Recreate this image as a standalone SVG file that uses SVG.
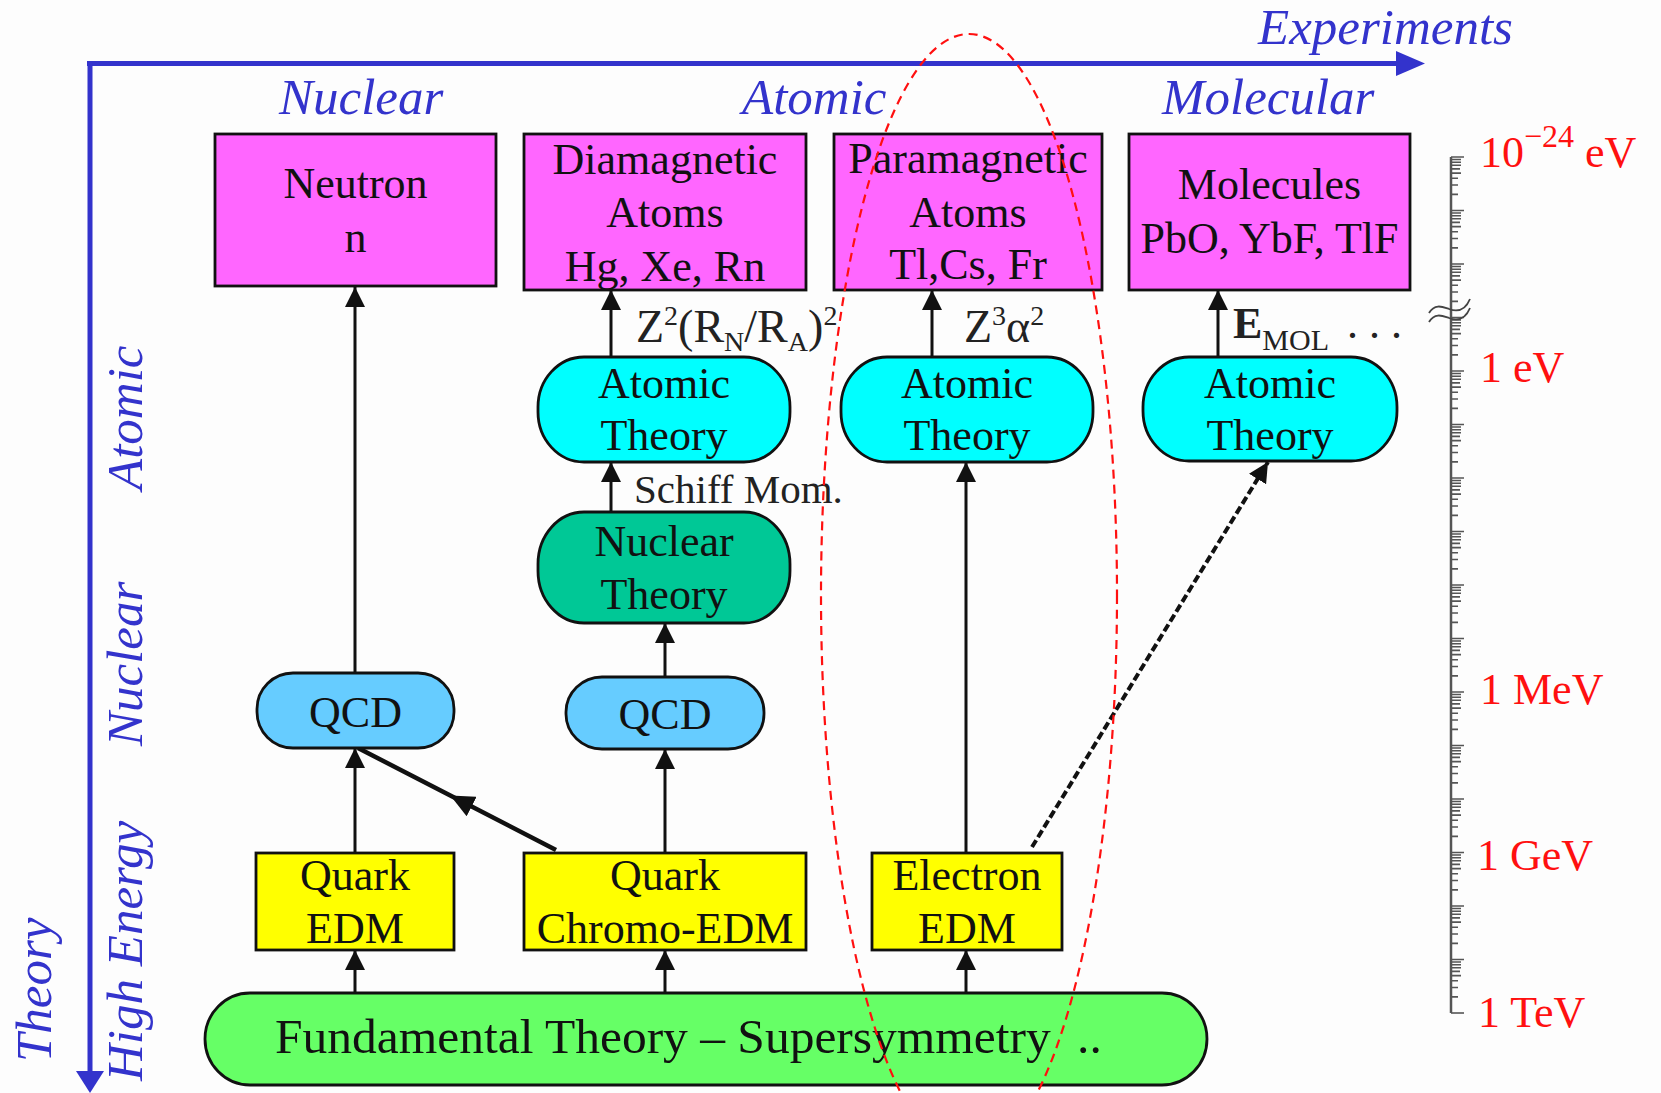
<svg xmlns="http://www.w3.org/2000/svg" width="1661" height="1093" viewBox="0 0 1661 1093">
<style>
.bg{fill:#fdfdfd}
.ax{fill:#3333cc;font-family:"Liberation Serif",serif;font-style:italic;font-size:51px}
.axl{stroke:#3333cc;stroke-width:5;fill:none}
.nt{font-family:"Liberation Serif",serif;font-size:44px;fill:#111;text-anchor:middle}
.lbl{font-family:"Liberation Serif",serif;font-size:46px;fill:#222}
.sch{font-family:"Liberation Serif",serif;font-size:41px;fill:#222}
.fun{font-family:"Liberation Serif",serif;font-size:49.5px;fill:#111}
.box{stroke:#111;stroke-width:2.8}
.mag{fill:#ff66ff}.cya{fill:#00ffff}.tea{fill:#00c896}.lbu{fill:#66ccff}.yel{fill:#ffff00}.grn{fill:#66ff66}
.c{stroke:#111;stroke-width:3;fill:none;marker-end:url(#ah)}
.red{fill:#ff1010;font-family:"Liberation Serif",serif;font-size:44px}
.tick{stroke:#555;stroke-width:1.6;fill:none}
</style>
<defs>
<marker id="ah" markerUnits="userSpaceOnUse" markerWidth="22" markerHeight="20" refX="20" refY="10" orient="auto" viewBox="0 0 22 20">
<path d="M0,0 L20,10 L0,20 z" fill="#111"/>
</marker>
<marker id="ahm" markerUnits="userSpaceOnUse" markerWidth="26" markerHeight="22" refX="12" refY="11" orient="auto" viewBox="0 0 26 22">
<path d="M0,0 L24,11 L0,22 z" fill="#111"/>
</marker>
<path id="dec" class="tick" d="M0,0 h13 M0,2.5 h10 M0,5.2 h10 M0,8.3 h10 M0,11.9 h9 M0,16.1 h10 M0,21.3 h7 M0,28 h7 M0,37.4 h7"/>
</defs>
<rect class="bg" x="0" y="0" width="1661" height="1093"/>

<g id="axes">
<line class="axl" x1="87" y1="63.5" x2="1398" y2="63.5"/>
<polygon points="1396,51 1425,63.5 1396,76" fill="#3333cc"/>
<line class="axl" x1="90" y1="61" x2="90" y2="1074"/>
<polygon points="76,1071 104,1071 90,1093" fill="#3333cc"/>
<text class="ax" x="1258" y="44">Experiments</text>
<text class="ax" x="279" y="114">Nuclear</text>
<text class="ax" x="742" y="114">Atomic</text>
<text class="ax" x="1162" y="114">Molecular</text>
<text class="ax" transform="translate(142,490) rotate(-90)">Atomic</text>
<text class="ax" transform="translate(142,746) rotate(-90)">Nuclear</text>
<text class="ax" transform="translate(142,1081) rotate(-90)">High Energy</text>
<text class="ax" transform="translate(51,1062) rotate(-90)">Theory</text>
</g>

<g id="scale">
<line x1="1451" y1="157" x2="1451" y2="1013" stroke="#555" stroke-width="2.5"/>
<use href="#dec" x="1451" y="157"/>
<use href="#dec" x="1451" y="210.5"/>
<use href="#dec" x="1451" y="264"/>
<use href="#dec" x="1451" y="317.5"/>
<use href="#dec" x="1451" y="371"/>
<use href="#dec" x="1451" y="424.5"/>
<use href="#dec" x="1451" y="478"/>
<use href="#dec" x="1451" y="531.5"/>
<use href="#dec" x="1451" y="585"/>
<use href="#dec" x="1451" y="638.5"/>
<use href="#dec" x="1451" y="692"/>
<use href="#dec" x="1451" y="745.5"/>
<use href="#dec" x="1451" y="799"/>
<use href="#dec" x="1451" y="852.5"/>
<use href="#dec" x="1451" y="906"/>
<use href="#dec" x="1451" y="959.5"/>
<path class="tick" d="M1451,1013 h13" stroke-width="2"/>
<path d="M1429,313 c6,-10 14,-6 20,-4 c8,3 16,2 21,-10 M1429,322 c6,-10 14,-6 20,-4 c8,3 16,2 21,-10" fill="none" stroke="#444" stroke-width="1.8"/>
<text class="red" x="1480" y="167">10<tspan font-size="32" dy="-20">−24</tspan><tspan dy="20"> eV</tspan></text>
<text class="red" x="1480" y="382">1 eV</text>
<text class="red" x="1480" y="704">1 MeV</text>
<text class="red" x="1477" y="870">1 GeV</text>
<text class="red" x="1478" y="1027">1 TeV</text>
</g>

<g id="connectors">
<line class="c" x1="355" y1="673" x2="355" y2="287"/>
<line class="c" x1="611" y1="357" x2="611" y2="290"/>
<line class="c" x1="932" y1="357" x2="932" y2="290"/>
<line class="c" x1="1218" y1="357" x2="1218" y2="290"/>
<line class="c" x1="611" y1="512" x2="611" y2="462"/>
<line class="c" x1="665" y1="677" x2="665" y2="623"/>
<line class="c" x1="966" y1="853" x2="966" y2="462"/>
<line x1="1032" y1="847" x2="1268" y2="462" stroke="#111" stroke-width="4" stroke-dasharray="8 3.5" marker-end="url(#ah)"/>
<line class="c" x1="355" y1="853" x2="355" y2="748"/>
<polyline points="556,850 461,801 358,748" fill="none" stroke="#111" stroke-width="4.5" marker-mid="url(#ahm)"/>
<line class="c" x1="665" y1="853" x2="665" y2="749"/>
<line class="c" x1="355" y1="993" x2="355" y2="950"/>
<line class="c" x1="665" y1="993" x2="665" y2="950"/>
<line class="c" x1="966" y1="993" x2="966" y2="950"/>
<text class="lbl" x="636" y="342">Z<tspan font-size="28" dy="-17">2</tspan><tspan dy="17">(R</tspan><tspan font-size="28" dy="9">N</tspan><tspan dy="-9">/R</tspan><tspan font-size="28" dy="9">A</tspan><tspan dy="-9">)</tspan><tspan font-size="28" dy="-17">2</tspan></text>
<text class="lbl" x="964" y="342">Z<tspan font-size="28" dy="-17">3</tspan><tspan dy="17">α</tspan><tspan font-size="28" dy="-17">2</tspan></text>
<text class="lbl" x="1233" y="338"><tspan font-weight="bold" font-size="44">E</tspan><tspan font-size="30" dy="12">MOL</tspan><tspan dy="-12" x="1347" font-size="44">. . .</tspan></text>
<text class="sch" x="634" y="503">Schiff Mom.</text>
</g>

<g id="neutron"><rect class="box mag" x="215" y="134" width="281" height="152"/><text class="nt" x="355.5" y="198">Neutron</text><text class="nt" x="355.5" y="252">n</text></g>
<g id="diamagnetic"><rect class="box mag" x="524" y="134" width="282" height="156"/><text class="nt" x="665" y="174">Diamagnetic</text><text class="nt" x="665" y="227">Atoms</text><text class="nt" x="665" y="281">Hg, Xe, Rn</text></g>
<g id="paramagnetic"><rect class="box mag" x="834" y="134" width="268" height="156"/><text class="nt" x="968" y="173">Paramagnetic</text><text class="nt" x="968" y="227">Atoms</text><text class="nt" x="968" y="279">Tl,Cs, Fr</text></g>
<g id="molecules"><rect class="box mag" x="1129" y="134" width="281" height="156"/><text class="nt" x="1269.5" y="199">Molecules</text><text class="nt" x="1269.5" y="253">PbO, YbF, TlF</text></g>

<g id="atomic-theory-dia"><rect class="box cya" x="538" y="357" width="252" height="105" rx="46" ry="50"/><text class="nt" x="664" y="398">Atomic</text><text class="nt" x="664" y="450">Theory</text></g>
<g id="atomic-theory-para"><rect class="box cya" x="841" y="357" width="252" height="105" rx="46" ry="50"/><text class="nt" x="967" y="398">Atomic</text><text class="nt" x="967" y="450">Theory</text></g>
<g id="atomic-theory-mol"><rect class="box cya" x="1143" y="357" width="254" height="104" rx="46" ry="50"/><text class="nt" x="1270" y="398">Atomic</text><text class="nt" x="1270" y="450">Theory</text></g>
<g id="nuclear-theory"><rect class="box tea" x="538" y="512" width="252" height="111" rx="46" ry="52"/><text class="nt" x="664" y="556">Nuclear</text><text class="nt" x="664" y="609">Theory</text></g>

<g id="qcd1"><rect class="box lbu" x="257" y="673" width="197" height="75" rx="36" ry="36"/><text class="nt" x="355.5" y="727">QCD</text></g>
<g id="qcd2"><rect class="box lbu" x="566" y="677" width="198" height="72" rx="36" ry="35"/><text class="nt" x="665" y="729">QCD</text></g>

<g id="quark-edm"><rect class="box yel" x="256" y="853" width="198" height="97"/><text class="nt" x="355" y="890">Quark</text><text class="nt" x="355" y="943">EDM</text></g>
<g id="quark-chromo-edm"><rect class="box yel" x="524" y="853" width="282" height="97"/><text class="nt" x="665" y="890">Quark</text><text class="nt" x="665" y="943">Chromo-EDM</text></g>
<g id="electron-edm"><rect class="box yel" x="872" y="853" width="190" height="97"/><text class="nt" x="967" y="890">Electron</text><text class="nt" x="967" y="943">EDM</text></g>

<g id="fundamental"><rect class="box grn" x="205" y="993" width="1002" height="92" rx="45" ry="46"/><text class="fun" x="275" y="1053">Fundamental Theory – Supersymmetry<tspan x="1077">..</tspan></text></g>

<ellipse id="highlight" cx="969" cy="595" rx="148" ry="561" fill="none" stroke="#ff1010" stroke-width="2.2" stroke-dasharray="9 6"/>
</svg>
